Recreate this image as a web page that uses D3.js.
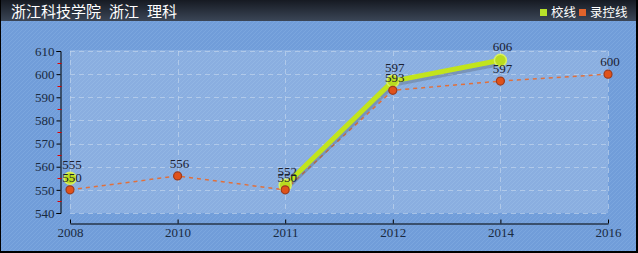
<!DOCTYPE html>
<html><head><meta charset="utf-8">
<script src="https://cdn.jsdelivr.net/npm/d3@7"></script>
<style>
html,body{margin:0;padding:0;background:#fff;}
svg{display:block;}
</style></head>
<body>
<script>
const titleParts = ["浙江科技学院", "浙江", "理科"];
const years = ["2008","2010","2011","2012","2014","2016"];
const schoolLine = [555, null, 552, 597, 606, null];
const controlLine = [550, 556, 550, 593, 597, 600];
const yTicks = [540, 550, 560, 570, 580, 590, 600, 610];
const legendNames = ["校线", "录控线"];

const W = 638, H = 253;
const svg = d3.select("body").append("svg").attr("width", W).attr("height", H);
const defs = svg.append("defs");

const g1 = defs.append("linearGradient").attr("id","tb").attr("x1",0).attr("y1",0).attr("x2",0).attr("y2",1);
g1.append("stop").attr("offset","0%").attr("stop-color","#161a22");
g1.append("stop").attr("offset","100%").attr("stop-color","#3b4657");

const pat = defs.append("pattern").attr("id","hatch").attr("patternUnits","userSpaceOnUse")
  .attr("width",4).attr("height",4);
pat.append("rect").attr("width",4).attr("height",4).attr("fill","#719dd9");
pat.append("path").attr("d","M0,4 L4,0 M-1,1 L1,-1 M3,5 L5,3").attr("stroke","#7ba6de").attr("stroke-width",1);

// background
svg.append("rect").attr("x",0).attr("y",0).attr("width",W).attr("height",H).attr("fill","#000");
svg.append("rect").attr("x",1).attr("y",21).attr("width",W-3).attr("height",H-23).attr("fill","url(#hatch)");
svg.append("rect").attr("x",1).attr("y",0).attr("width",W-3).attr("height",21).attr("fill","url(#tb)");

const titleX = [11, 109, 147];
titleParts.forEach((t,i)=>{
  svg.append("text").attr("x",titleX[i]).attr("y",17).attr("fill","#fff")
    .attr("font-family","'Noto Sans CJK SC', sans-serif").attr("font-size",15).text(t);
});

// legend
const legColors = ["#b7e12a","#e0632b"];
const legX = [540, 579];
legendNames.forEach((n,i)=>{
  svg.append("rect").attr("x",legX[i]).attr("y",9).attr("width",7).attr("height",7).attr("fill",legColors[i]);
  svg.append("text").attr("x",legX[i]+11).attr("y",17).attr("fill","#fff")
    .attr("font-family","'Noto Sans CJK SC', sans-serif").attr("font-size",12.5).text(n);
});

const x = d3.scalePoint().domain(years).range([70, 608]);
const y = d3.scaleLinear().domain([540, 610]).range([213, 51]);

// plot area
svg.append("rect").attr("x",70).attr("y",y(610)-1).attr("width",538).attr("height",y(540)-y(610)+1)
  .attr("fill","#ffffff").attr("fill-opacity",0.18);

const grid = svg.append("g").attr("stroke","#c8d8ee").attr("stroke-opacity",0.6).attr("stroke-dasharray","5,4").attr("stroke-width",1);
yTicks.forEach(t=>{
  grid.append("line").attr("x1",70).attr("x2",608).attr("y1",Math.round(y(t))+0.5).attr("y2",Math.round(y(t))+0.5);
});
years.forEach(yr=>{
  grid.append("line").attr("x1",Math.round(x(yr))+0.5).attr("x2",Math.round(x(yr))+0.5).attr("y1",y(610)).attr("y2",y(540));
});

// y axis
const yAxis = d3.axisLeft(y).tickValues(yTicks).tickSize(4).tickPadding(2);
const ya = svg.append("g").attr("transform","translate(60.5,0)").call(yAxis);
ya.select(".domain").attr("stroke","#000");
ya.selectAll("text").attr("font-family","'Liberation Serif', serif").attr("font-size",13).attr("fill","#1a2a40");
const minor = d3.range(545, 610, 10);
ya.selectAll(".minor").data(minor).enter().append("line").attr("class","minor")
  .attr("x1",-3).attr("x2",1).attr("y1",d=>Math.round(y(d))+0.5).attr("y2",d=>Math.round(y(d))+0.5)
  .attr("stroke","#e00000");

// x axis
const xAxis = d3.axisBottom(x).tickSize(-4).tickPadding(4).tickSizeOuter(0);
const xa = svg.append("g").attr("transform","translate(0,223.5)").call(xAxis);
xa.select(".domain").attr("stroke","#000");
xa.selectAll(".tick line").attr("y1",-4).attr("y2",0).attr("stroke","#000");
xa.selectAll("text").attr("font-family","'Liberation Serif', serif").attr("font-size",13).attr("fill","#1a2a40").attr("dy","0.71em");

// lines
const ctrl = years.map((yr,i)=>({yr, v: controlLine[i]}));
const sch = years.map((yr,i)=>({yr, v: schoolLine[i]}));
const line = d3.line().defined(d=>d.v!=null).x(d=>x(d.yr)).y(d=>y(d.v));

svg.append("path").datum(ctrl).attr("d",line).attr("fill","none")
  .attr("stroke","#e0703c").attr("stroke-width",1.5).attr("stroke-dasharray","4,4");

svg.append("path").datum(sch).attr("d",line).attr("fill","none")
  .attr("stroke","#556070").attr("stroke-opacity",0.35).attr("stroke-width",5)
  .attr("transform","translate(1,3)");
svg.append("path").datum(sch).attr("d",line).attr("fill","none")
  .attr("stroke","#c2e41c").attr("stroke-width",5).attr("stroke-linejoin","round");

// points
svg.selectAll(".sp").data(sch.filter(d=>d.v!=null)).enter().append("circle")
  .attr("cx",d=>x(d.yr)).attr("cy",d=>y(d.v)).attr("r",6)
  .attr("fill","#b9dc20").attr("stroke","#d8f060").attr("stroke-width",1.5);
svg.selectAll(".cp").data(ctrl).enter().append("circle")
  .attr("cx",d=>x(d.yr)).attr("cy",d=>y(d.v)).attr("r",4)
  .attr("fill","#e0521a").attr("stroke","#9c3a1c").attr("stroke-width",1.2);

// labels
const lblFont = "'Liberation Serif', serif";
svg.selectAll(".sl").data(sch.filter(d=>d.v!=null)).enter().append("text")
  .attr("x",d=>x(d.yr)+2).attr("y",d=>y(d.v)-9).attr("text-anchor","middle")
  .attr("font-family",lblFont).attr("font-size",13).attr("fill","#1a2030").text(d=>d.v);
svg.selectAll(".cl").data(ctrl).enter().append("text")
  .attr("x",d=>x(d.yr)+2).attr("y",d=>y(d.v)-8).attr("text-anchor","middle")
  .attr("font-family",lblFont).attr("font-size",13).attr("fill","#1a2030").text(d=>d.v);
</script>
</body></html>
